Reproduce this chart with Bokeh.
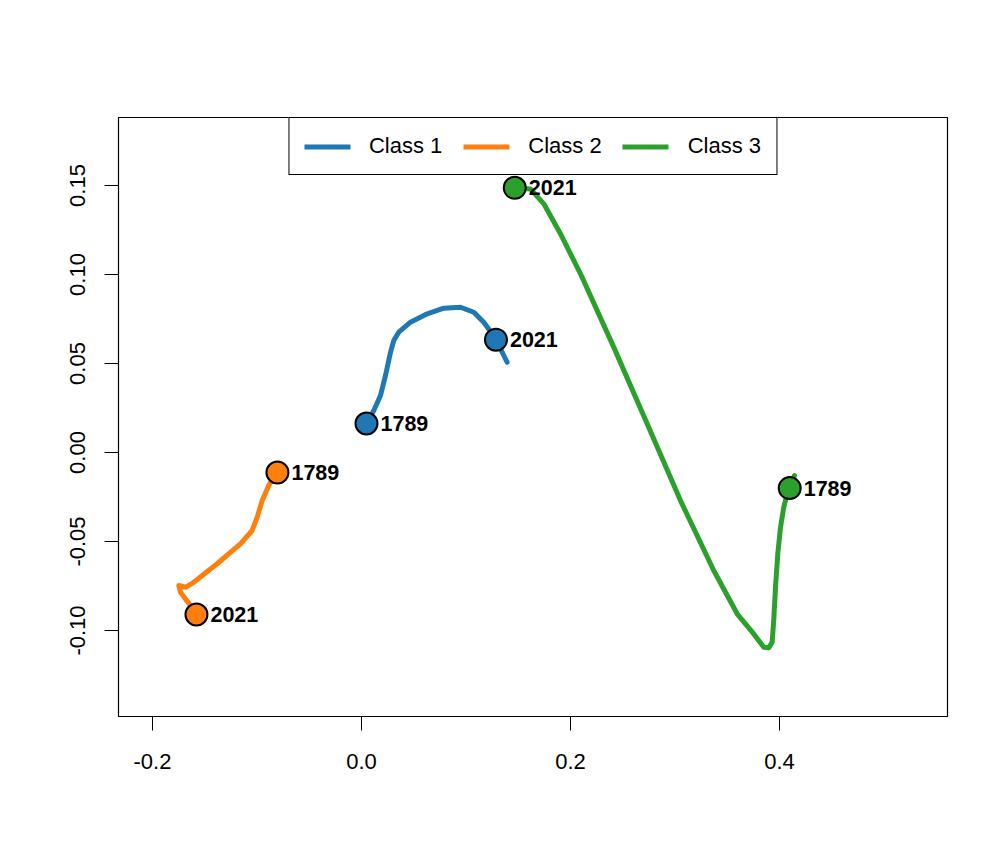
from bokeh.plotting import figure
from bokeh.models import Range1d, FixedTicker, NumeralTickFormatter, Legend, LegendItem, ColumnDataSource
from bokeh.core.properties import value
from bokeh.embed import file_html
from bokeh.resources import INLINE

# ---- data ----
classes = ["Class 1", "Class 2", "Class 3"]
colors = ["#1f77b4", "#ff7f0e", "#2ca02c"]

c1_x = [0.0048, 0.0118, 0.0182, 0.0230, 0.0278, 0.0309, 0.0357, 0.0469, 0.0629, 0.0788, 0.0947, 0.1075, 0.1170, 0.1251, 0.1330, 0.1394]
c1_y = [0.0161, 0.0236, 0.0320, 0.0433, 0.0563, 0.0629, 0.0676, 0.0732, 0.0779, 0.0811, 0.0816, 0.0788, 0.0732, 0.0667, 0.0583, 0.0507]

c2_x = [-0.0807, -0.0887, -0.0950, -0.0998, -0.1046, -0.1158, -0.1381, -0.1605, -0.1684, -0.1748, -0.1732, -0.1636, -0.1572]
c2_y = [-0.0111, -0.0185, -0.0270, -0.0363, -0.0438, -0.0513, -0.0625, -0.0729, -0.0757, -0.0747, -0.0785, -0.0860, -0.0906]

c3_x = [0.1467, 0.1617, 0.1745, 0.1904, 0.2096, 0.2414, 0.2734, 0.3053, 0.3371, 0.3595, 0.3754, 0.3850, 0.3898, 0.3930,
        0.3945, 0.3962, 0.3984, 0.4010, 0.4041, 0.4074, 0.4144]
c3_y = [0.1487, 0.1481, 0.1397, 0.1229, 0.1004, 0.0592, 0.0161, -0.0270, -0.0663, -0.0906, -0.1019, -0.1094, -0.1097, -0.1066,
        -0.0944, -0.0757, -0.0569, -0.0420, -0.0307, -0.0232, -0.0129]

# year markers
mark_x = [0.0048, 0.1287, -0.0804, -0.1579, 0.4098, 0.1467]
mark_y = [0.0163, 0.0634, -0.0112, -0.0910, -0.0200, 0.1487]
mark_label = ["1789", "2021", "1789", "2021", "1789", "2021"]
mark_class = [0, 0, 1, 1, 2, 2]

x_ticks = [-0.2, 0.0, 0.2, 0.4]
y_ticks = [-0.10, -0.05, 0.00, 0.05, 0.10, 0.15]

FONT = "Liberation Sans"

p = figure(width=992, height=848, output_backend="svg", toolbar_location=None,
           x_range=Range1d(-0.2325, 0.5608), y_range=Range1d(-0.1483, 0.1882),
           min_border_left=118, min_border_right=45, min_border_top=117, min_border_bottom=132)
p.background_fill_color = "white"
p.border_fill_color = "white"
p.outline_line_color = "black"
p.outline_line_width = 1.2
p.xgrid.visible = False
p.ygrid.visible = False

for ax in (p.xaxis[0], p.yaxis[0]):
    ax.axis_line_color = None
    ax.major_tick_in = 0
    ax.major_tick_out = 14
    ax.major_tick_line_color = "black"
    ax.major_tick_line_width = 1
    ax.minor_tick_line_color = None
    ax.major_label_text_font = FONT
    ax.major_label_text_font_size = "22px"
    ax.major_label_text_color = "black"
    ax.major_label_standoff = 19

p.xaxis[0].major_label_standoff = 23
p.xaxis[0].ticker = FixedTicker(ticks=x_ticks)
p.yaxis[0].ticker = FixedTicker(ticks=y_ticks)
p.xaxis[0].formatter = NumeralTickFormatter(format="0.0")
p.yaxis[0].formatter = NumeralTickFormatter(format="0.00")
p.yaxis[0].major_label_orientation = "vertical"

renderers = []
for xs, ys, col in [(c1_x, c1_y, colors[0]), (c2_x, c2_y, colors[1]), (c3_x, c3_y, colors[2])]:
    r = p.line(xs, ys, line_color=col, line_width=5, line_cap="round", line_join="round")
    renderers.append(r)

src = ColumnDataSource(dict(x=mark_x, y=mark_y, label=mark_label,
                            color=[colors[i] for i in mark_class]))
p.scatter("x", "y", source=src, size=22, fill_color="color", line_color="black", line_width=2)
p.text("x", "y", text="label", source=src, x_offset=14, text_align="left", text_baseline="middle",
       text_font=value(FONT), text_font_style="bold", text_font_size="21.5px", text_color="black")

legend = Legend(items=[LegendItem(label=classes[i], renderers=[renderers[i]]) for i in range(3)],
                location="top_center", orientation="horizontal")
legend.margin = 0
legend.padding = 15
legend.spacing = 21
legend.glyph_width = 46
legend.glyph_height = 21
legend.label_height = 21
legend.label_standoff = 19
legend.label_text_font = FONT
legend.label_text_font_size = "22px"
legend.label_text_color = "black"
legend.border_line_color = "black"
legend.border_line_width = 1.2
legend.border_line_alpha = 1
legend.background_fill_alpha = 1
p.add_layout(legend, "center")

open("out.html", "w").write(file_html(p, INLINE))
